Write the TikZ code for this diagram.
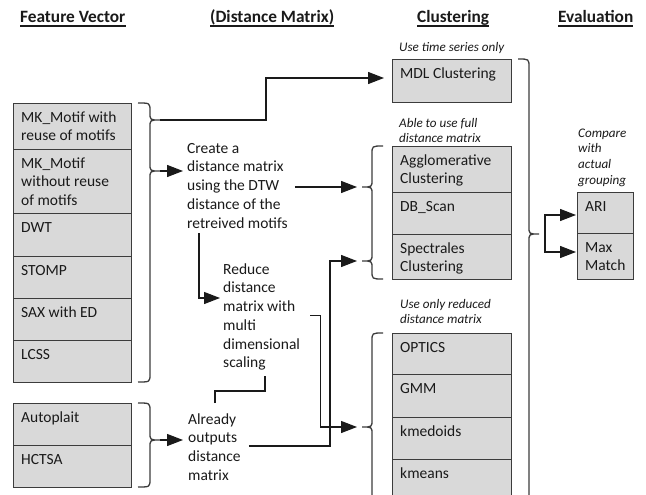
\documentclass[tikz,border=0pt]{standalone}
\usepackage{fontspec}
\setmainfont{Carlito}
\usetikzlibrary{arrows.meta}
\definecolor{boxfill}{HTML}{D9D9D9}
\definecolor{boxline}{HTML}{3C3C3C}
\definecolor{ink}{HTML}{1A1A1A}
% a grey cell with its label set in the top left corner
\newcommand\cellbox[6]{%
  \node[cell, minimum width=#4pt, minimum height=#5pt] (#1) at (#2,#3) {};
  \node[celltext] (#1t) at (#1.north west) {\strut #6};}
\begin{document}
\begin{tikzpicture}[x=1pt,y=-1pt,
  cell/.style={rectangle, draw=boxline, fill=boxfill, line width=1.3pt, anchor=north west, inner sep=0pt},
  celltext/.style={anchor=north west, inner xsep=8pt, inner ysep=6pt, align=left, text=ink, font=\fontsize{15.5}{18.7}\selectfont},
  note/.style={anchor=north west, inner sep=0pt, align=left, text=ink, font=\fontsize{15.5}{18.7}\selectfont},
  hint/.style={anchor=north west, inner sep=0pt, align=left, text=ink, font=\itshape\fontsize{13.1}{15.7}\selectfont},
  head/.style={anchor=base west, inner sep=0pt, text=ink, font=\bfseries\fontsize{17.3}{20.8}\selectfont},
  uline/.style={line width=1.2pt, draw=ink},
  brace/.style={line width=1.3pt, draw=boxline},
  link/.style={line width=1.3pt, draw=ink},
  arr/.style={link, -{Triangle[length=16pt,width=12pt]}}]
\useasboundingbox (0,0) rectangle (646,495);
\fill[white] (0,0) rectangle (646,495);
\clip (0,0) rectangle (646,495);

% column headings
\node[head] (hfv) at (20,23) {Feature Vector};
\node[head] (hdm) at (210,23) {(Distance Matrix)};
\node[head] (hcl) at (417,23) {Clustering};
\node[head] (hev) at (558,23) {Evaluation};
\foreach \h in {hfv,hdm,hcl,hev}
  \draw[uline] ([yshift=-3pt]\h.base west) -- ([yshift=-3pt]\h.base east);

% feature vectors
\cellbox{fv1}{13}{103}{118}{46}{MK\_Motif with\\reuse of motifs}
\cellbox{fv2}{13}{149}{118}{64}{MK\_Motif\\without reuse\\of motifs}
\cellbox{fv3}{13}{213}{118}{43}{DWT}
\cellbox{fv4}{13}{256}{118}{42}{STOMP}
\cellbox{fv5}{13}{298}{118}{42}{SAX with ED}
\cellbox{fv6}{13}{340}{118}{42}{LCSS}
\cellbox{fv7}{13}{403}{118}{42}{Autoplait}
\cellbox{fv8}{13}{445}{118}{42}{HCTSA}

% clustering methods
\cellbox{mdl}{392}{59}{119}{43}{MDL Clustering}
\cellbox{agg}{392}{146}{119}{46}{Agglomerative\\Clustering}
\cellbox{dbs}{392}{192}{119}{42}{DB\_Scan}
\cellbox{spc}{392}{234}{119}{45}{Spectrales\\Clustering}
\cellbox{opt}{392}{333}{119}{41}{OPTICS}
\cellbox{gmm}{392}{374}{119}{43}{GMM}
\cellbox{kmd}{392}{417}{119}{42}{kmedoids}
\cellbox{kmn}{392}{459}{119}{60}{kmeans}

% evaluation measures
\cellbox{ari}{577}{192}{56}{41}{ARI}
\cellbox{mm}{577}{233}{56}{46}{Max\\Match}

% distance matrix steps
\node[note] (create) at (187,140) {\strut Create a\\distance matrix\\using the DTW\\distance of the\\retreived motifs};
\node[note] (reduce) at (223,261) {\strut Reduce\\distance\\matrix with\\multi\\dimensional\\scaling};
\node[note] (already) at (188,411) {\strut Already\\outputs\\distance\\matrix};

% remarks
\node[hint] (h1) at (399,40) {\strut Use time series only};
\node[hint] (h2) at (399,116) {\strut Able to use full\\distance matrix};
\node[hint] (h3) at (400,297) {\strut Use only reduced\\distance matrix};
\node[hint] (h4) at (578,126) {\strut Compare\\with\\actual\\grouping};

% brace tips
\coordinate (t1) at (160,120);
\coordinate (t2) at (160,171);
\coordinate (t3) at (160,440);
\coordinate (t4) at (362,187);
\coordinate (t5) at (362,261);
\coordinate (t6) at (362,427);
\coordinate (t7) at (539,234);

% braces
\draw[brace] (138,103) .. controls (150,103) .. (150,111) -- (150,113)
  .. controls (150,120) .. (t1) .. controls (150,120) .. (150,127) -- (150,164)
  .. controls (150,171) .. (t2) .. controls (150,171) .. (150,178) -- (150,374)
  .. controls (150,382) .. (138,382);
\draw[brace] (138,403) .. controls (150,403) .. (150,411) -- (150,433)
  .. controls (150,440) .. (t3) .. controls (150,440) .. (150,447) -- (150,479)
  .. controls (150,487) .. (138,487);
\draw[brace] (383,146) .. controls (372,146) .. (372,154) -- (372,180)
  .. controls (372,187) .. (t4) .. controls (372,187) .. (372,194) -- (372,254)
  .. controls (372,261) .. (t5) .. controls (372,261) .. (372,268) -- (372,271)
  .. controls (372,279) .. (383,279);
\draw[brace] (383,333) .. controls (372,333) .. (372,341) -- (372,420)
  .. controls (372,427) .. (t6) .. controls (372,427) .. (372,434) -- (372,505);
\draw[brace] (518,59) .. controls (529,59) .. (529,67) -- (529,227)
  .. controls (529,234) .. (t7) .. controls (529,234) .. (529,241) -- (529,505);

% connectors
\coordinate (k1) at (266,78);
\draw[arr] (t1) -| (k1) -- ([xshift=-8pt]k1 -| mdl.west);
\draw[arr] (t2) -- ([xshift=-4pt]t2 -| create.west);
\draw[arr] (t3) -- ([xshift=-5pt]t3 -| already.west);
\draw[arr] ([xshift=7pt]create.east |- t4) -- ([xshift=-5pt]t4);
\draw[arr] ([shift={(12,5)}]create.south west) |- ([xshift=-3pt]reduce.west |- 0,298);
\draw[arr] ([xshift=10pt]reduce.east) -- ++(10,0) |- ([xshift=-5pt]t6);
\draw[link] ([shift={(27,-8)}]already.north west) -- ++(0,-12) -| ([shift={(42,5)}]reduce.south west);
\draw[arr] ([xshift=8pt]already.east) -| ([xshift=-32pt]t5) -- ([xshift=-5pt]t5);
\coordinate (s7) at ([xshift=6pt]t7);
\draw[arr] (s7) |- ([xshift=-1pt]ari.west |- 0,215);
\draw[arr] (s7) |- ([xshift=-1pt]mm.west |- 0,252);
\end{tikzpicture}
\end{document}
